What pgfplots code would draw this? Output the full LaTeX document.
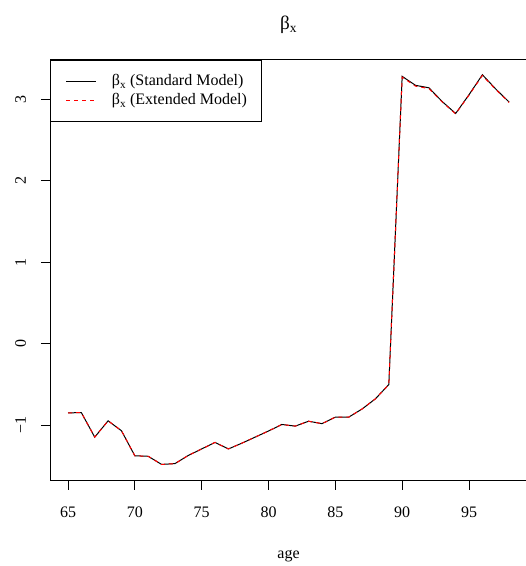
\documentclass[border=0pt]{standalone}
\usepackage{fontspec}
\setmainfont{Liberation Serif}
\usepackage{pgfplots}
\pgfplotsset{compat=1.18}
\pgfplotstableread{
age beta
65 -0.847
66 -0.845
67 -1.145
68 -0.945
69 -1.067
70 -1.374
71 -1.380
72 -1.480
73 -1.470
74 -1.370
75 -1.290
76 -1.210
77 -1.290
78 -1.220
79 -1.145
80 -1.070
81 -0.990
82 -1.010
83 -0.950
84 -0.980
85 -0.900
86 -0.900
87 -0.800
88 -0.675
89 -0.500
90 3.280
91 3.170
92 3.140
93 2.970
94 2.825
95 3.055
96 3.300
97 3.125
98 2.965
}\stdtab
\pgfplotstableread{
age beta
65 -0.847
66 -0.845
67 -1.145
68 -0.945
69 -1.067
70 -1.374
71 -1.380
72 -1.480
73 -1.470
74 -1.370
75 -1.290
76 -1.210
77 -1.290
78 -1.220
79 -1.145
80 -1.070
81 -0.990
82 -1.010
83 -0.950
84 -0.980
85 -0.900
86 -0.900
87 -0.800
88 -0.675
89 -0.500
90 3.270
91 3.160
92 3.130
93 2.965
94 2.820
95 3.050
96 3.290
97 3.120
98 2.960
}\exttab
\begin{document}
\begin{tikzpicture}
\useasboundingbox (0,0) rectangle (526bp,566bp);
\begin{axis}[
  at={(50.36bp,86bp)}, anchor=south west,
  scale only axis, width=476.4bp, height=420bp,
  xmin=63.68, xmax=99.32, ymin=-1.671, ymax=3.481,
  xtick={65,70,75,80,85,90,95},
  xticklabels={65,70,75,80,85,90,95},
  ytick={-1,0,1,2,3},
  yticklabels={−1,0,1,2,3},
  axis line style={line width=1bp},
  tick align=outside, tick pos=left,
  major tick length=9.6bp,
  every tick/.style={black, line width=1bp},
  font=\fontsize{16bp}{19bp}\selectfont,
  xticklabel style={anchor=base, inner sep=0pt, yshift=-28bp},
  yticklabel style={xshift=-15bp, rotate=90, anchor=base, inner sep=0pt},
  xlabel={age},
  xlabel style={at={(axis description cs:0.5,0)}, anchor=base, inner sep=0pt, yshift=-78bp},
  title={β\textsubscript{x}},
  title style={at={(axis description cs:0.5,1)}, anchor=base, inner sep=0pt, yshift=25bp, font=\fontsize{19.2bp}{23bp}\selectfont},
  legend style={at={(axis description cs:0,1)}, anchor=north west, draw=black, line width=1bp,
    inner xsep=15bp, inner ysep=14bp, row sep=5bp, column sep=15bp,
    font=\fontsize{16bp}{19bp}\selectfont,
    nodes={inner sep=0pt, text height=11bp, text depth=3bp},
    cells={anchor=west}},
]
\addplot[black, line width=1bp,
  legend image code/.code={\draw[black, line width=1bp] (0bp,0bp) -- (30bp,0bp);}]
  table[x=age, y=beta] {\stdtab};
\addlegendentry{β\textsubscript{x} (Standard Model)}
\addplot[red, line width=1bp, dash pattern=on 4bp off 4bp,
  legend image code/.code={\draw[draw=red, line width=1bp, dash pattern=on 4bp off 4bp] (0bp,0bp) -- (30bp,0bp);}]
  table[x=age, y=beta] {\exttab};
\addlegendentry{β\textsubscript{x} (Extended Model)}
\end{axis}
\end{tikzpicture}
\end{document}
